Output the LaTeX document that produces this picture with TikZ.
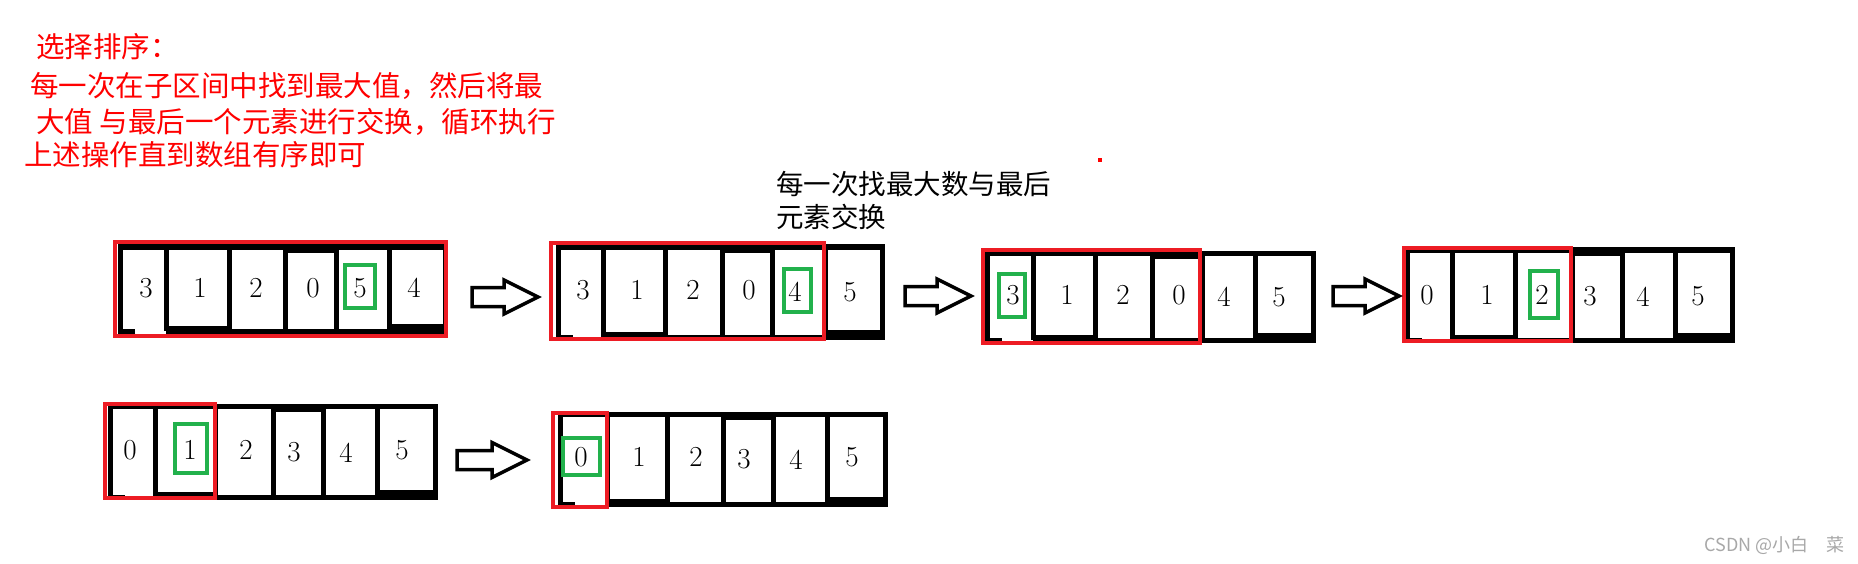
\documentclass[tikz,border=0pt]{standalone}
\usepackage{fontspec}
\newfontfamily\cjk{Noto Sans CJK SC}
\definecolor{pred}{HTML}{ED1C24}
\definecolor{pgreen}{HTML}{22B14C}
\definecolor{wm}{HTML}{A8A8A8}
\tikzset{
  cellline/.style={draw=black,line width=5pt,line join=miter},
  redbox/.style={draw=pred,line width=4.5pt},
  greenbox/.style={draw=pgreen,line width=4.5pt},
  digit/.style={inner sep=0pt,font=\fontsize{29}{34}\selectfont},
  redtext/.style={anchor=west,inner sep=0pt,text=red,font=\cjk\fontsize{28.5}{32}\selectfont},
  blacktext/.style={anchor=west,inner sep=0pt,text=black,font=\cjk\fontsize{27.5}{32}\selectfont},
  wmtext/.style={anchor=east,inner sep=0pt,text=wm,font=\cjk\fontsize{18}{20}\selectfont},
  barrow/.pic={\draw[line width=3.5pt,line join=miter]
     (-33,-9.5) -- (-1,-9.5) -- (-1,-17) -- (33,0) -- (-1,17) -- (-1,9.5) -- (-33,9.5) -- cycle;},
  barrowlong/.pic={\draw[line width=3.5pt,line join=miter]
     (-35,-9.5) -- (0,-9.5) -- (0,-17.5) -- (35,0) -- (0,17.5) -- (0,9.5) -- (-35,9.5) -- cycle;}
}
% #1..#7 cell borders, #8 top, #9 bottom
\newcommand\drawcells[9]{%
  \draw[cellline] (#1+15,#9) -- (#1,#9) -- (#1,#8) -- (#7,#8) -- (#7,#9) -- (#2,#9);
  \draw[cellline] (#2,#8) rectangle (#3,#9-3);
  \draw[cellline] (#3,#8) -- (#3,#9);
  \draw[cellline] (#4,#8+3) rectangle (#5,#9);
  \draw[cellline] (#6,#8) rectangle (#7,#9-5);
}
\begin{document}
\begin{tikzpicture}[x=1pt,y=-1pt]
\useasboundingbox[fill=white] (0,0) rectangle (1858,564);

% description
\node[redtext] (t1) at (36,47) {选择排序：};
\node[redtext] (t2) at (30,86) {每一次在子区间中找到最大值，然后将最};
\node[redtext] (t3) at (36,122) {大值 与最后一个元素进行交换，循环执行};
\node[redtext] (t4) at (24,155) {上述操作直到数组有序即可};
\node[blacktext] (n1) at (776,184) {每一次找最大数与最后};
\node[blacktext] (n2) at (776,217) {元素交换};
\fill[red] (1098,158) rectangle (1102,162);

% array 1
\drawcells{120}{166}{229}{285}{336}{389}{445}{247}{331}
\node[digit] (a1) at (146,288) {3};
\node[digit] (a2) at (200,288) {1};
\node[digit] (a3) at (256,288) {2};
\node[digit] (a4) at (313,288) {0};
\node[digit] (a5) at (360,288) {5};
\node[digit] (a6) at (414,288) {4};
\draw[redbox] (115,242) rectangle (446,336);
\draw[greenbox] (345,265) rectangle (375,308);

% array 2
\drawcells{558}{603}{665}{722}{772}{825}{882}{247}{337}
\node[digit] (b1) at (583,290) {3};
\node[digit] (b2) at (637,290) {1};
\node[digit] (b3) at (693,290) {2};
\node[digit] (b4) at (749,290) {0};
\node[digit] (b5) at (795,292) {4};
\node[digit] (b6) at (850,292) {5};
\draw[redbox] (551,243) rectangle (824,339);
\draw[greenbox] (784,269) rectangle (811,312);

% array 3
\drawcells{987}{1033}{1095}{1152}{1202}{1255}{1313}{253}{340}
\node[digit] (c1) at (1013,295) {3};
\node[digit] (c2) at (1067,295) {1};
\node[digit] (c3) at (1123,295) {2};
\node[digit] (c4) at (1179,295) {0};
\node[digit] (c5) at (1224,297) {4};
\node[digit] (c6) at (1279,297) {5};
\draw[redbox] (983,250) rectangle (1200,343);
\draw[greenbox] (999,274) rectangle (1025,317);

% array 4
\drawcells{1407}{1452}{1515}{1572}{1622}{1675}{1732}{250}{340}
\node[digit] (d1) at (1427,295) {0};
\node[digit] (d2) at (1487,295) {1};
\node[digit] (d3) at (1542,295) {2};
\node[digit] (d4) at (1590,296) {3};
\node[digit] (d5) at (1643,297) {4};
\node[digit] (d6) at (1698,296) {5};
\draw[redbox] (1404,248) rectangle (1571,341);
\draw[greenbox] (1530,271) rectangle (1558,318);

% array 5
\drawcells{110}{155}{215}{273}{323}{377}{435}{406}{497}
\node[digit] (e1) at (130,450) {0};
\node[digit] (e2) at (190,450) {1};
\node[digit] (e3) at (246,450) {2};
\node[digit] (e4) at (294,452) {3};
\node[digit] (e5) at (346,453) {4};
\node[digit] (e6) at (402,450) {5};
\draw[redbox] (105,404) rectangle (215,498);
\draw[greenbox] (175,424) rectangle (207,473);

% array 6
\drawcells{560}{607}{667}{723}{773}{827}{885}{414}{504}
\node[digit] (f1) at (581,457) {0};
\node[digit] (f2) at (639,457) {1};
\node[digit] (f3) at (696,457) {2};
\node[digit] (f4) at (744,459) {3};
\node[digit] (f5) at (796,460) {4};
\node[digit] (f6) at (852,457) {5};
\draw[redbox] (553,413) rectangle (607,507);
\draw[greenbox] (563,438) rectangle (600,475);

% block arrows
\pic at (505,297) {barrow};
\pic at (938,296) {barrow};
\pic at (1366,296) {barrow};
\pic at (492,460) {barrowlong};

% watermark
\node[wmtext] (wm) at (1845,545) {CSDN @小白\hspace{18pt}菜};
\end{tikzpicture}
\end{document}
